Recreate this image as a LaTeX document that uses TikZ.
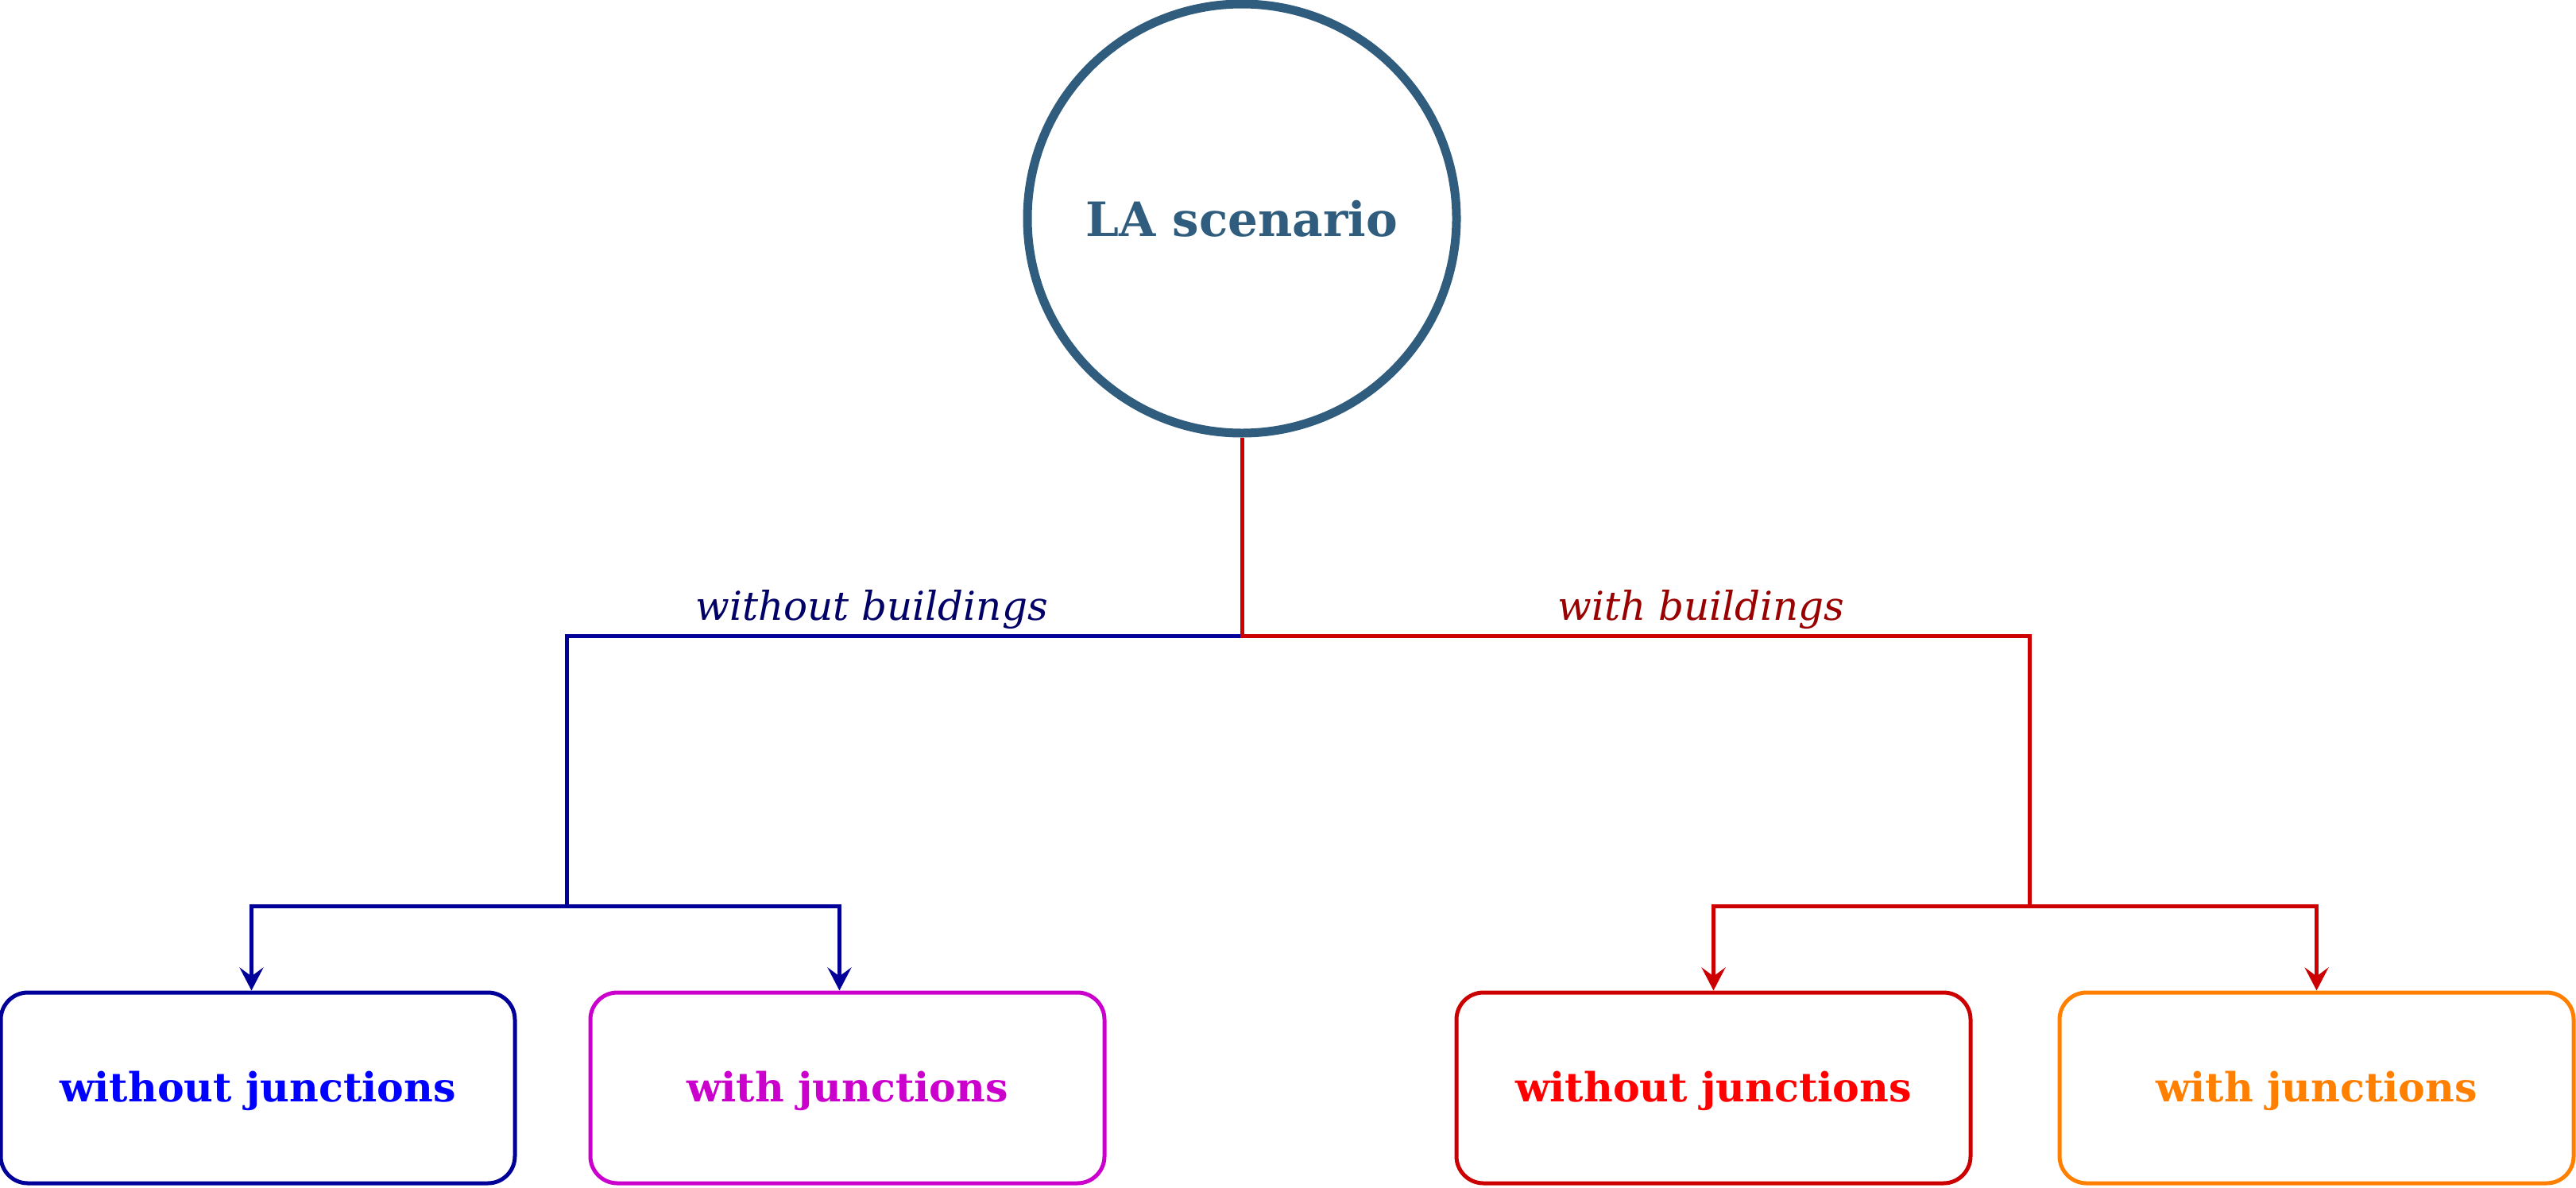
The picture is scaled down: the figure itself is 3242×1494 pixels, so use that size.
\documentclass[tikz,border=0pt]{standalone}
\usepackage{fontspec}
\setmainfont{DejaVu Serif}
\usetikzlibrary{arrows.meta}
\definecolor{circc}{RGB}{48,93,126}
\definecolor{dblue}{HTML}{000099}
\definecolor{tblue}{HTML}{0000FF}
\definecolor{magc}{HTML}{CC00CC}
\definecolor{dred}{HTML}{CC0000}
\definecolor{tred}{HTML}{FF0000}
\definecolor{orc}{HTML}{FF8000}
\definecolor{navyl}{HTML}{000066}
\definecolor{redl}{HTML}{990000}
\tikzset{
  leafbox/.style={draw, line width=2.5pt, rounded corners=17pt, minimum width=323.5pt, minimum height=120pt, inner sep=0pt, text height=19.2pt, text depth=2pt, font=\fontsize{25.3}{30}\selectfont\bfseries},
  conn/.style={line width=2.5pt},
  arr/.style={conn, -{Stealth[length=14.5pt, width=15pt, inset=5.5pt]}},
  lbl/.style={anchor=base, inner sep=0pt, font=\fontsize{25}{30}\selectfont\itshape}
}
\begin{document}
\begin{tikzpicture}[x=0.5pt, y=-0.5pt]
\useasboundingbox (0,0) rectangle (3242,1494);
\node[circle, draw=circc, line width=5.5pt, minimum size=270pt, inner sep=0pt, text=circc, font=\fontsize{29.8}{36}\selectfont\bfseries] (LA) at (1563,275) {LA scenario};

\node[leafbox, draw=dblue, text=tblue] (b1) at (324.5,1369) {without junctions};
\node[leafbox, draw=magc, text=magc] (b2) at (1066.5,1369) {with junctions};
\node[leafbox, draw=dred, text=tred] (b3) at (2156.5,1369) {without junctions};
\node[leafbox, draw=orc, text=orc] (b4) at (2915.5,1369) {with junctions};

\coordinate (jt) at (1563,800);
\coordinate (jb) at (713,1140);
\coordinate (jr) at (2554,1140);

\draw[conn, dblue] (jt) -| (jb);
\draw[arr, dblue] (jb) -| ([xshift=-4pt]b1.north);
\draw[arr, dblue] (jb) -| ([xshift=-5pt]b2.north);

\draw[conn, dred] (LA.south) -- (jt) -| (jr);
\draw[arr, dred] (jr) -| (b3.north);
\draw[arr, dred] (jr) -| (b4.north);

\node[lbl, text=navyl] (l1) at (1097,780) {without buildings};
\node[lbl, text=redl] (l2) at (2141,780) {with buildings};
\end{tikzpicture}
\end{document}
